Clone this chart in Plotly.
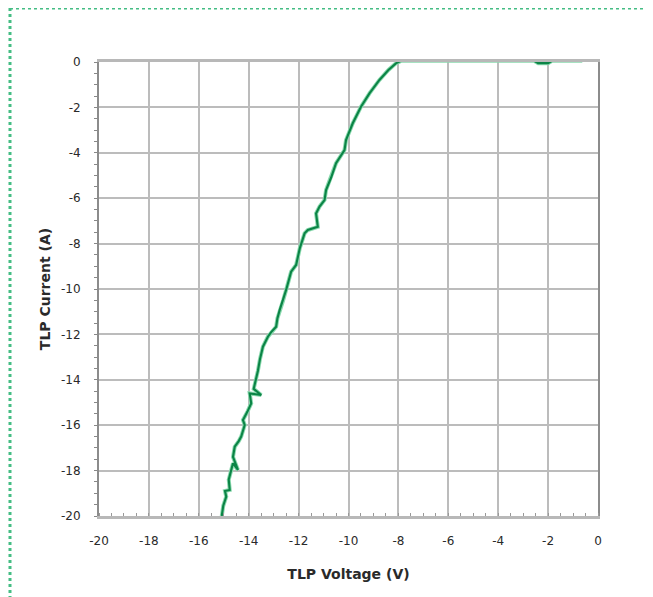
import plotly.graph_objects as go

# TLP I-V curve
voltage = [-15.08, -15.02, -14.90, -14.95, -14.76, -14.80, -14.63, -14.43, -14.63, -14.56,
           -14.40, -14.30, -14.16, -14.23, -14.05, -13.90, -13.96, -13.50, -13.80, -13.70,
           -13.63, -13.55, -13.43, -13.23, -13.10, -12.90, -12.85, -12.76, -12.62, -12.50,
           -12.30, -12.10, -11.95, -11.76, -11.63, -11.23, -11.30, -11.16, -10.96, -10.90,
           -10.70, -10.50, -10.16, -10.10, -9.83, -9.50, -9.16, -8.76, -8.40, -8.10,
           -7.90, -6.00, -4.00, -2.56, -2.40, -2.00, -1.84, -1.20, -0.63]
current = [-20.00, -19.55, -19.15, -18.90, -18.85, -18.40, -17.68, -17.97, -17.40, -16.95,
           -16.70, -16.50, -15.99, -15.77, -15.40, -15.04, -14.60, -14.67, -14.40, -14.00,
           -13.60, -13.10, -12.54, -12.10, -11.90, -11.66, -11.30, -10.93, -10.50, -10.04,
           -9.24, -8.94, -8.20, -7.55, -7.40, -7.26, -6.67, -6.37, -6.08, -5.64,
           -5.10, -4.46, -3.88, -3.44, -2.70, -1.97, -1.38, -0.79, -0.35, -0.06,
           0.05, 0.05, 0.05, 0.05, -0.05, -0.05, 0.05, 0.05, 0.05]

x_ticks = [-20, -18, -16, -14, -12, -10, -8, -6, -4, -2, 0]
y_ticks = [0, -2, -4, -6, -8, -10, -12, -14, -16, -18, -20]

fig = go.Figure()
fig.add_trace(go.Scatter(x=voltage, y=current, mode="lines",
                         line=dict(color="#8ad9ae", width=4), hoverinfo="skip",
                         showlegend=False))
fig.add_trace(go.Scatter(x=voltage, y=current, mode="lines",
                         line=dict(color="#0b8446", width=2.1), showlegend=False))

# page is offset by the body margin (8px), so the figure is laid out 8px up/left
OFF = 8
W, H = 653, 597
L, T = 99 - OFF, 62 - OFF
pw, ph = 499, 454
R, B = W - L - pw, H - T - ph

def px(p):
    return (p - OFF - L) / pw

def py(p):
    return (H - B - (p - OFF)) / ph

# green frame (left and top edges)
fig.add_shape(type="line", xref="paper", yref="paper", x0=px(10), x1=px(660), y0=py(8), y1=py(8),
              line=dict(color="#45bd84", width=3, dash="dot"))
fig.add_shape(type="line", xref="paper", yref="paper", x0=px(10), x1=px(10), y0=py(8), y1=py(610),
              line=dict(color="#45bd84", width=3, dash="dot"))

fig.update_layout(
    width=W, height=H,
    margin=dict(l=L, r=R, t=T, b=B),
    paper_bgcolor="white", plot_bgcolor="white",
    font=dict(family="DejaVu Sans", color="#222222", size=12),
    xaxis=dict(range=[-20, 0], tickvals=x_ticks, ticktext=[str(v) for v in x_ticks],
               showgrid=True, gridcolor="#bcbcbc", gridwidth=1.6,
               showline=True, linecolor="#b8b8b8", linewidth=2.5, mirror=True,
               ticks="", zeroline=False, ticklabelstandoff=12,
               minor=dict(dtick=0.5, ticks="inside", ticklen=3, tickcolor="#999999", showgrid=False),
               tickfont=dict(size=12, color="#2a2a2a", family="DejaVu Sans"),
               title=dict(text="<b>TLP Voltage (V)</b>", font=dict(size=14, color="#2a2a2a"), standoff=23)),
    yaxis=dict(range=[-20, 0], tickvals=y_ticks, ticktext=[str(v) for v in y_ticks],
               showgrid=True, gridcolor="#bcbcbc", gridwidth=1.6,
               showline=True, linecolor="#8c8c8c", linewidth=2, mirror=True,
               ticks="", zeroline=False, ticklabelstandoff=14,
               minor=dict(dtick=0.5, ticks="outside", ticklen=3, tickcolor="#888888", showgrid=False),
               tickfont=dict(size=12, color="#2a2a2a", family="DejaVu Sans"),
               title=dict(text="<b>TLP Current (A)</b>", font=dict(size=14, color="#2a2a2a"), standoff=7)),
)

fig.write_html("out.html")
